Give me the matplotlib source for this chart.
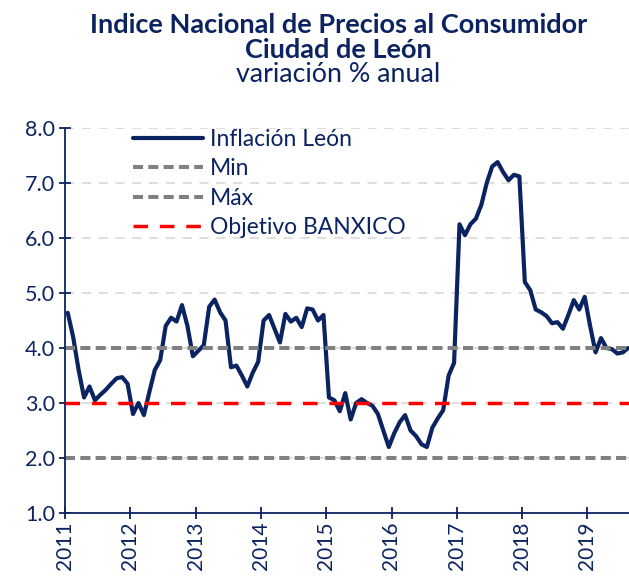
import numpy as np
import matplotlib
matplotlib.use("Agg")
import matplotlib.pyplot as plt

# ---- data (monthly, Jan 2011 .. Aug 2019) ----
start_year = 2011
inflacion_leon = [
    4.64, 4.20, 3.60, 3.10, 3.30, 3.05, 3.15, 3.24, 3.35, 3.45, 3.47, 3.35,   # 2011
    2.80, 3.00, 2.78, 3.20, 3.60, 3.78, 4.40, 4.55, 4.48, 4.78, 4.40, 3.85,   # 2012
    3.95, 4.05, 4.75, 4.88, 4.65, 4.50, 3.65, 3.68, 3.50, 3.30, 3.55, 3.75,   # 2013
    4.50, 4.60, 4.35, 4.10, 4.62, 4.48, 4.55, 4.38, 4.72, 4.70, 4.50, 4.60,   # 2014
    3.10, 3.05, 2.85, 3.18, 2.70, 3.00, 3.07, 3.00, 2.95, 2.80, 2.50, 2.20,   # 2015
    2.45, 2.65, 2.78, 2.50, 2.40, 2.25, 2.20, 2.55, 2.72, 2.87, 3.50, 3.73,   # 2016
    6.25, 6.05, 6.25, 6.35, 6.60, 7.00, 7.30, 7.38, 7.20, 7.05, 7.15, 7.12,   # 2017
    5.20, 5.05, 4.70, 4.65, 4.58, 4.45, 4.47, 4.35, 4.60, 4.87, 4.70, 4.93,   # 2018
    4.40, 3.92, 4.18, 4.00, 3.98, 3.90, 3.92, 4.00,                           # 2019
]
min_val = 2.0
max_val = 4.0
objetivo_banxico = 3.0
year_ticks = list(range(2011, 2020))
y_ticks = [1.0, 2.0, 3.0, 4.0, 5.0, 6.0, 7.0, 8.0]

labels = ["Inflación León", "Min", "Máx", "Objetivo BANXICO"]
title_l1 = "Indice Nacional de Precios al Consumidor"
title_l2 = "Ciudad de León"
subtitle = "variación % anual"

# ---- styling ----
NAVY = "#0b2461"
GREY = "#808080"
RED = "#ff0000"
GRID = "#d4d4d4"
FONT = ["Lato", "DejaVu Sans"]
plt.rcParams["font.family"] = FONT

x = start_year + (np.arange(len(inflacion_leon)) + 0.5) / 12.0

fig = plt.figure(figsize=(6.29, 5.76), dpi=100)
ax = fig.add_axes([65 / 629, 1 - 513 / 576, 1 - 65 / 629, (513 - 128) / 576])

ax.set_xlim(2011, 2011 + (629 - 65) / 65.3)
ax.set_ylim(1.0, 8.0)

for yv in y_ticks[1:]:
    ax.axhline(yv, color=GRID, lw=1.1, ls=(0, (6, 5)), zorder=1)

ax.plot(x, inflacion_leon, color=NAVY, lw=3.0, solid_joinstyle="round",
        solid_capstyle="round", label=labels[0], zorder=3)
ax.axhline(min_val, color=GREY, lw=2.9, ls=(0, (2.5, 1.3)), label=labels[1], zorder=4)
ax.axhline(max_val, color=GREY, lw=2.9, ls=(0, (2.5, 1.3)), label=labels[2], zorder=4)
ax.axhline(objetivo_banxico, color=RED, lw=2.5, ls=(0, (4.2, 3.4)), label=labels[3], zorder=5)

ax.set_xticks(year_ticks)
ax.set_xticklabels([str(y) for y in year_ticks], rotation=90)
ax.set_yticks(y_ticks)
ax.set_yticklabels([f"{v:.1f}" for v in y_ticks])

for side in ["top", "right"]:
    ax.spines[side].set_visible(False)
for side in ["left", "bottom"]:
    ax.spines[side].set_color(NAVY)
    ax.spines[side].set_linewidth(1.3)
    ax.spines[side].set_zorder(6)

ax.tick_params(axis="both", direction="inout", length=8, width=1.3,
               color=NAVY, labelcolor=NAVY)
ax.tick_params(axis="x", pad=2, labelsize=15)
ax.tick_params(axis="y", pad=3, labelsize=15.5)

leg = ax.legend(loc="upper left", bbox_to_anchor=(133 / 629, 1 - 129 / 576),
                bbox_transform=fig.transFigure, frameon=False, fontsize=16.5,
                handlelength=3.05, handletextpad=0.3, labelspacing=0.37,
                borderaxespad=0, borderpad=0)
for t in leg.get_texts():
    t.set_color(NAVY)

fig.text(0.538, 1 - 33 / 576, title_l1, ha="center", va="baseline",
         fontsize=19.5, fontweight="bold", color=NAVY)
fig.text(0.538, 1 - 58 / 576, title_l2, ha="center", va="baseline",
         fontsize=19.5, fontweight="bold", color=NAVY)
fig.text(0.538, 1 - 82 / 576, subtitle, ha="center", va="baseline",
         fontsize=19.3, color=NAVY)

fig.savefig("out.png", dpi=100)
